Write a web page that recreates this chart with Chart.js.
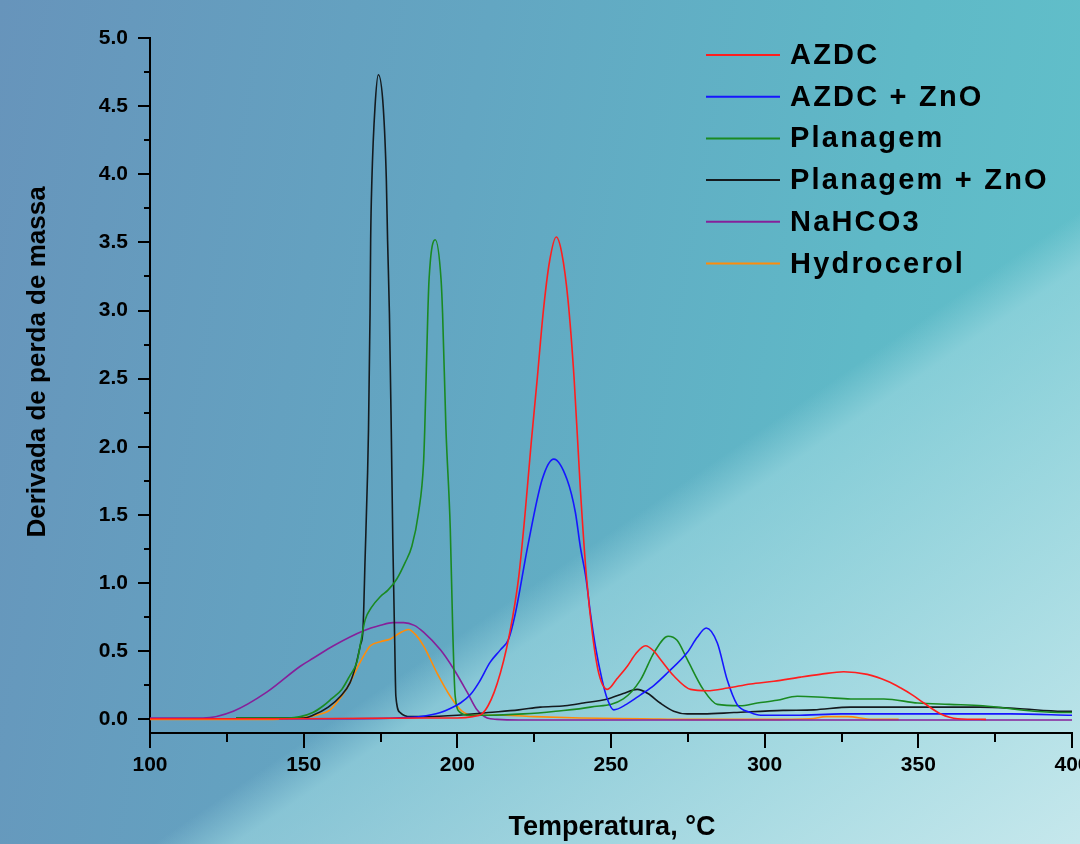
<!DOCTYPE html>
<html>
<head>
<meta charset="utf-8">
<script src="https://cdn.jsdelivr.net/npm/chart.js@4.4.0/dist/chart.umd.min.js"></script>
<style>
  html, body { margin: 0; padding: 0; }
  body {
    width: 1080px; height: 844px; overflow: hidden;
    background:
      linear-gradient(145.7deg, rgba(190,232,238,0) 60%, rgba(160,218,226,0.6) 63.5%, rgba(215,238,242,0.85) 100%),
      linear-gradient(100deg, #6794bb 0%, #63a6c2 40%, #5fb9c7 75%, #62c2cb 100%);
  }
</style>
</head>
<body>
<canvas id="dtg" width="1080" height="844"></canvas>
<script>
// series names + colours (legend order)
const seriesLabels = ['AZDC', 'AZDC + ZnO', 'Planagem', 'Planagem + ZnO', 'NaHCO3', 'Hydrocerol'];
const seriesColors = ['#ff1e1e', '#1616ff', '#1a8a22', '#141a1e', '#86209a', '#ff8c0a'];

// AZDC
const azdcT = [100, 150, 190, 200, 205, 208, 210, 212, 214, 216, 218, 220, 222, 224, 226, 228, 230, 232.2, 234, 236, 238, 240, 242, 244, 246, 248.8, 252, 255.3, 258, 261.2, 264, 266.1, 270.4, 275.9, 281.3, 288, 295.4, 303, 311.7, 318, 325.7, 333.4, 340, 344.3, 348, 351.8, 357.3, 362.8, 372];
const azdcV = [0.005, 0.005, 0.01, 0.01, 0.02, 0.04, 0.10, 0.20, 0.34, 0.52, 0.75, 1.05, 1.50, 2.02, 2.50, 3.0, 3.36, 3.54, 3.42, 3.08, 2.50, 1.70, 1.05, 0.62, 0.34, 0.22, 0.30, 0.39, 0.48, 0.54, 0.50, 0.44, 0.32, 0.22, 0.21, 0.23, 0.26, 0.28, 0.31, 0.33, 0.35, 0.33, 0.28, 0.23, 0.18, 0.12, 0.04, 0.005, 0.0];

// AZDC + ZnO
const azdcZnoT = [142, 160, 180, 188, 194.5, 197.7, 201, 204.2, 207, 210.7, 214, 216.7, 218.9, 222.9, 227.6, 231.4, 235.7, 238.4, 240, 241.9, 243.3, 244.9, 247.1, 248.8, 250.9, 255, 259.6, 264, 268.3, 274.8, 278, 281, 284.6, 287.8, 291, 295.4, 298.7, 310, 325, 340, 360, 380, 400];
const azdcZnoV = [0.005, 0.005, 0.01, 0.02, 0.05, 0.08, 0.12, 0.18, 0.27, 0.42, 0.51, 0.59, 0.78, 1.27, 1.76, 1.91, 1.76, 1.52, 1.27, 1.03, 0.78, 0.54, 0.29, 0.15, 0.07, 0.11, 0.18, 0.25, 0.34, 0.49, 0.60, 0.67, 0.56, 0.29, 0.11, 0.05, 0.03, 0.03, 0.04, 0.04, 0.04, 0.04, 0.03];

// Planagem
const planT = [128, 145, 148.9, 153, 156.4, 159, 162.4, 165, 167.3, 170, 172, 174.9, 177.5, 180.3, 183, 185.2, 187.4, 189, 189.4, 190.4, 190.8, 192.8, 194.7, 195.2, 196.3, 197.7, 198.5, 199.3, 201, 204, 210, 221.5, 232, 243.3, 254, 259.6, 264, 268.6, 271.5, 274.8, 280, 284.6, 292, 297.6, 304, 310.6, 320, 328, 338.8, 349.8, 360, 371, 387.7, 397.5, 400];
const planV = [0.01, 0.01, 0.02, 0.05, 0.1, 0.15, 0.22, 0.32, 0.42, 0.73, 0.82, 0.9, 0.95, 1.03, 1.15, 1.27, 1.52, 1.88, 2.13, 2.98, 3.23, 3.52, 3.23, 2.98, 2.13, 1.40, 0.66, 0.17, 0.05, 0.03, 0.03, 0.04, 0.06, 0.09, 0.15, 0.29, 0.49, 0.61, 0.58, 0.44, 0.22, 0.11, 0.10, 0.12, 0.14, 0.17, 0.16, 0.15, 0.15, 0.12, 0.11, 0.10, 0.06, 0.05, 0.05];

// Planagem + ZnO
const planZnoT = [128, 150, 153, 158, 162, 165.1, 167, 168.5, 169.3, 170, 170.8, 171.1, 171.6, 171.8, 172.2, 173.2, 174.3, 175.9, 176.9, 177.3, 177.9, 178.5, 179, 179.6, 180, 181.4, 184.7, 190, 200, 210, 220, 227, 235, 241, 248.9, 254, 258.5, 262, 266, 270.4, 274.8, 280, 290, 306, 316, 328, 349.8, 370, 382, 397, 400];
const planZnoV = [0.01, 0.01, 0.03, 0.09, 0.17, 0.27, 0.4, 0.55, 0.66, 1.19, 1.81, 2.13, 2.98, 3.52, 3.96, 4.49, 4.73, 4.49, 3.96, 3.52, 2.98, 2.13, 1.32, 0.6, 0.17, 0.05, 0.02, 0.02, 0.03, 0.05, 0.07, 0.09, 0.1, 0.12, 0.15, 0.19, 0.22, 0.19, 0.12, 0.06, 0.04, 0.04, 0.05, 0.066, 0.07, 0.09, 0.09, 0.09, 0.08, 0.06, 0.06];

// NaHCO3
const nahco3T = [100, 117.3, 127.1, 138, 148.9, 153.2, 159.7, 169.5, 175, 179, 182.5, 186, 189, 194.5, 198.8, 203.2, 206.4, 209.7, 212.9, 220, 250, 300, 350, 400];
const nahco3V = [0.01, 0.01, 0.06, 0.2, 0.39, 0.45, 0.54, 0.65, 0.69, 0.71, 0.71, 0.69, 0.64, 0.51, 0.37, 0.20, 0.07, 0.01, 0.0, -0.005, -0.005, -0.005, -0.005, -0.005];

// Hydrocerol
const hydroT = [100, 140, 148.9, 154, 158.6, 161, 164.1, 168.4, 171.7, 175, 178.2, 181, 184.1, 186.5, 189, 193.4, 197.7, 201.5, 205.3, 215, 225, 240, 260, 275, 300, 315, 320, 327, 335, 343.6];
const hydroV = [0.0, 0.0, 0.01, 0.03, 0.07, 0.13, 0.23, 0.42, 0.54, 0.57, 0.59, 0.63, 0.66, 0.62, 0.54, 0.34, 0.17, 0.06, 0.03, 0.03, 0.02, 0.01, 0.005, 0.0, 0.0, 0.005, 0.02, 0.02, 0.0, 0.0];

const xTicks = [100, 125, 150, 175, 200, 225, 250, 275, 300, 325, 350, 375, 400];
const yTicks = [0, 0.25, 0.5, 0.75, 1, 1.25, 1.5, 1.75, 2, 2.25, 2.5, 2.75, 3, 3.25, 3.5, 3.75, 4, 4.25, 4.5, 4.75, 5];

const seriesT = [azdcT, azdcZnoT, planT, planZnoT, nahco3T, hydroT];
const seriesV = [azdcV, azdcZnoV, planV, planZnoV, nahco3V, hydroV];

const FONT = '"Liberation Sans", Arial, sans-serif';

function isMajorY(v) {
  return Math.abs(v * 2 - Math.round(v * 2)) < 1e-9;
}

// ticks, axis titles and the legend are drawn by hand
const decor = {
  id: 'decor',
  afterDraw(chart) {
    const ctx = chart.ctx;
    const a = chart.chartArea;
    const xs = chart.scales.x;
    const ys = chart.scales.y;
    ctx.save();
    ctx.strokeStyle = '#000';
    ctx.lineWidth = 2;
    ctx.beginPath();
    xs.ticks.forEach(function (t) {
      let px = Math.round(xs.getPixelForValue(t.value));
      let len = t.value % 50 === 0 ? 15 : 9;
      ctx.moveTo(px, a.bottom);
      ctx.lineTo(px, a.bottom + len);
    });
    ys.ticks.forEach(function (t) {
      let py = Math.round(ys.getPixelForValue(t.value));
      let len = isMajorY(t.value) ? 12 : 6;
      ctx.moveTo(a.left, py);
      ctx.lineTo(a.left - len, py);
    });
    ctx.stroke();

    ctx.fillStyle = '#000';
    ctx.font = 'bold 27px ' + FONT;
    ctx.textAlign = 'center';
    ctx.textBaseline = 'middle';
    ctx.fillText('Temperatura, °C', 612, 828);
    ctx.save();
    ctx.translate(38, 362);
    ctx.rotate(-Math.PI / 2);
    ctx.font = 'bold 26px ' + FONT;
    ctx.fillText('Derivada de perda de massa', 0, 0);
    ctx.restore();

    // legend
    ctx.font = 'bold 29px ' + FONT;
    ctx.textAlign = 'left';
    if ('letterSpacing' in ctx) ctx.letterSpacing = '2.2px';
    chart.data.datasets.forEach(function (ds, i) {
      let ry = 55 + i * 41.7;
      ctx.strokeStyle = ds.borderColor;
      ctx.lineWidth = 2;
      ctx.beginPath();
      ctx.moveTo(706, ry);
      ctx.lineTo(780, ry);
      ctx.stroke();
      ctx.fillStyle = '#000';
      ctx.fillText(ds.label, 790, ry + 1);
    });
    ctx.restore();
  },
};

const datasets = seriesT.map(function (t, i) {
  return {
    label: seriesLabels[i],
    data: t.map(function (x, k) { return { x: x, y: seriesV[i][k] }; }),
    borderColor: seriesColors[i],
    backgroundColor: seriesColors[i],
    borderWidth: 1.6,
    pointRadius: 0,
    cubicInterpolationMode: 'monotone',
    fill: false,
  };
});

new Chart(document.getElementById('dtg'), {
  type: 'line',
  data: { datasets: datasets },
  plugins: [decor],
  options: {
    responsive: false,
    animation: false,
    devicePixelRatio: 1,
    layout: { padding: { top: 38, right: 8, left: 0, bottom: 0 } },
    plugins: {
      legend: { display: false },
      tooltip: { enabled: false },
    },
    scales: {
      x: {
        type: 'linear',
        min: 100,
        max: 400,
        afterBuildTicks: function (s) { s.ticks = xTicks.map(function (v) { return { value: v }; }); },
        afterFit: function (s) { s.height = 111; s.paddingLeft = 0; s.paddingRight = 0; },
        ticks: {
          autoSkip: false,
          maxRotation: 0,
          padding: 8,
          color: '#000',
          font: { family: FONT, size: 21, weight: 'bold' },
          callback: function (v) { return v % 50 === 0 ? String(v) : ''; },
        },
        grid: { display: true, drawOnChartArea: false, drawTicks: true, tickLength: 12, color: 'rgba(0,0,0,0)' },
        border: { display: true, color: '#000', width: 2 },
      },
      y: {
        type: 'linear',
        min: -0.1,
        max: 5.0,
        afterBuildTicks: function (s) { s.ticks = yTicks.map(function (v) { return { value: v }; }); },
        afterFit: function (s) { s.width = 150; s.paddingTop = 0; s.paddingBottom = 0; },
        ticks: {
          autoSkip: false,
          padding: 10,
          color: '#000',
          font: { family: FONT, size: 21, weight: 'bold' },
          callback: function (v) { return isMajorY(v) ? v.toFixed(1) : ''; },
        },
        grid: { display: true, drawOnChartArea: false, drawTicks: true, tickLength: 12, color: 'rgba(0,0,0,0)' },
        border: { display: true, color: '#000', width: 2 },
      },
    },
  },
});
</script>
</body>
</html>
